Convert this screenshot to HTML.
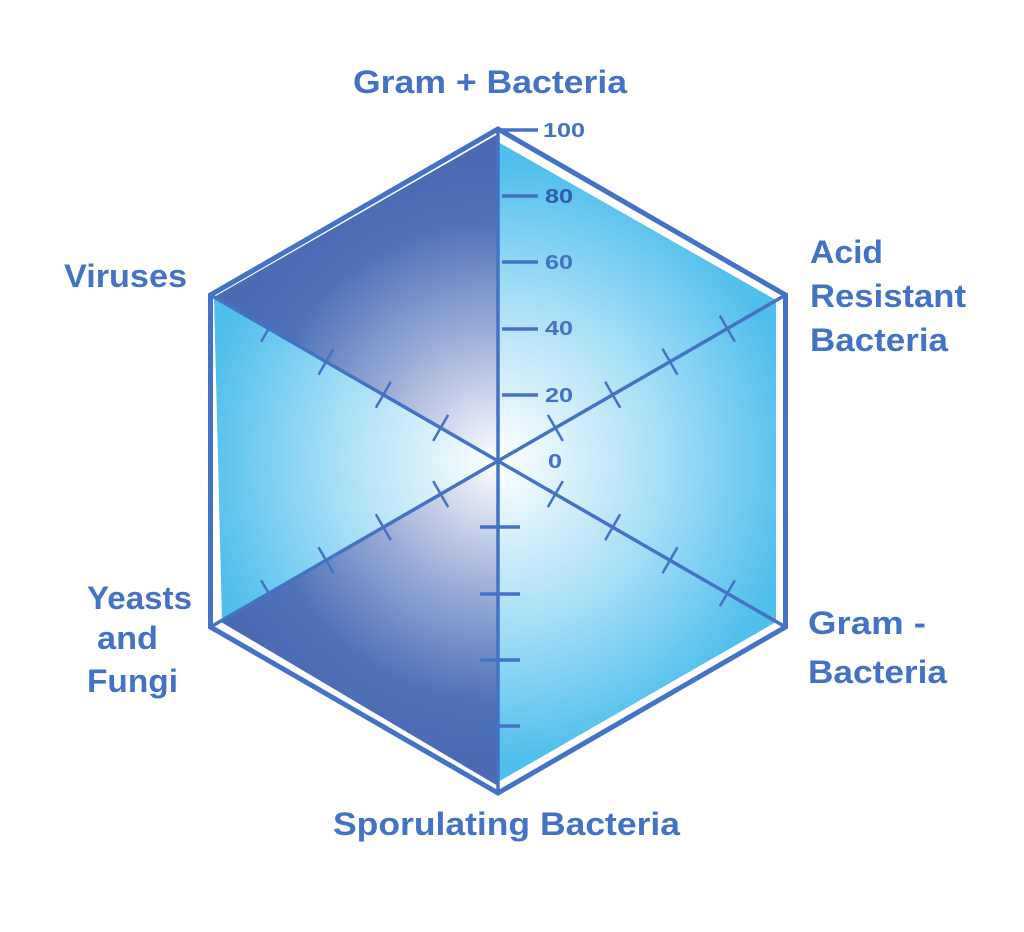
<!DOCTYPE html>
<html><head><meta charset="utf-8"><style>
html,body{margin:0;padding:0;background:#fff;}
svg{display:block;}
text{font-family:"Liberation Sans",sans-serif;font-weight:bold;fill:#4472C4;}
</style></head><body>
<svg width="1024" height="932" viewBox="0 0 1024 932">
<defs>
<radialGradient id="lg" gradientUnits="userSpaceOnUse" cx="498" cy="461" r="300">
<stop offset="0" stop-color="#ffffff"/><stop offset="0.55" stop-color="#a6def6"/><stop offset="1" stop-color="#4fbfec"/></radialGradient>
<radialGradient id="dg" gradientUnits="userSpaceOnUse" cx="498" cy="461" r="300">
<stop offset="0" stop-color="#ffffff"/><stop offset="0.4" stop-color="#a3b3da"/><stop offset="0.8" stop-color="#4f72b9"/><stop offset="1" stop-color="#4a6bb3"/></radialGradient>
</defs>
<polygon points="498,142 776,300 776,622 498,782 222,621 214,298" fill="url(#lg)"/>
<polygon points="498,461 498,134 214,297" fill="url(#dg)"/>
<polygon points="498,461 221,622 498,786" fill="url(#dg)"/>
<polygon points="498,129 785.5,295 785.5,627 498,793 210.5,627 210.5,295" fill="none" stroke="#4472C4" stroke-width="5" stroke-linejoin="miter"/>
<g stroke="#4472C4" stroke-width="3.5" fill="none">
<line x1="498" y1="461" x2="498" y2="129"/>
<line x1="498" y1="130" x2="538" y2="130"/>
<line x1="502" y1="196" x2="538" y2="196"/>
<line x1="502" y1="262" x2="538" y2="262"/>
<line x1="502" y1="329" x2="538" y2="329"/>
<line x1="502" y1="395" x2="538" y2="395"/>
<line x1="498" y1="461" x2="498" y2="793"/>
<line x1="480" y1="527" x2="520" y2="527"/>
<line x1="480" y1="594" x2="520" y2="594"/>
<line x1="480" y1="660" x2="520" y2="660"/>
<line x1="480" y1="726" x2="520" y2="726"/>
</g>
<g stroke="#4472C4" fill="none">
<g transform="translate(498,461) rotate(-30)"><line x1="0" y1="0" x2="332" y2="0" stroke-width="3.5"/><g stroke-width="2.5"><line x1="66.2" y1="-15" x2="66.2" y2="15"/><line x1="132.4" y1="-15" x2="132.4" y2="15"/><line x1="198.6" y1="-15" x2="198.6" y2="15"/><line x1="264.8" y1="-15" x2="264.8" y2="15"/></g></g>
<g transform="translate(498,461) rotate(30)"><line x1="0" y1="0" x2="332" y2="0" stroke-width="3.5"/><g stroke-width="2.5"><line x1="66.2" y1="-15" x2="66.2" y2="15"/><line x1="132.4" y1="-15" x2="132.4" y2="15"/><line x1="198.6" y1="-15" x2="198.6" y2="15"/><line x1="264.8" y1="-15" x2="264.8" y2="15"/></g></g>
<g transform="translate(498,461) rotate(150)"><line x1="0" y1="0" x2="332" y2="0" stroke-width="3.5"/><g stroke-width="2.5"><line x1="66.2" y1="-15" x2="66.2" y2="15"/><line x1="132.4" y1="-15" x2="132.4" y2="15"/><line x1="198.6" y1="-15" x2="198.6" y2="15"/><line x1="264.8" y1="-15" x2="264.8" y2="15"/></g></g>
<g transform="translate(498,461) rotate(210)"><line x1="0" y1="0" x2="332" y2="0" stroke-width="3.5"/><g stroke-width="2.5"><line x1="66.2" y1="-15" x2="66.2" y2="15"/><line x1="132.4" y1="-15" x2="132.4" y2="15"/><line x1="198.6" y1="-15" x2="198.6" y2="15"/><line x1="264.8" y1="-15" x2="264.8" y2="15"/></g></g>
</g>
<g font-size="20" lengthAdjust="spacingAndGlyphs">
<text x="543" y="137" textLength="42" lengthAdjust="spacingAndGlyphs">100</text>
<text x="545" y="203" textLength="28" lengthAdjust="spacingAndGlyphs" style="fill:#2f5caf">80</text>
<text x="545" y="269" textLength="28" lengthAdjust="spacingAndGlyphs">60</text>
<text x="545" y="335" textLength="28" lengthAdjust="spacingAndGlyphs">40</text>
<text x="545" y="402" textLength="28" lengthAdjust="spacingAndGlyphs">20</text>
<text x="548" y="468" textLength="14" lengthAdjust="spacingAndGlyphs">0</text>
</g>
<g font-size="32">
<text x="353" y="93" textLength="274" lengthAdjust="spacingAndGlyphs">Gram + Bacteria</text>
<text x="64" y="287" textLength="123" lengthAdjust="spacingAndGlyphs">Viruses</text>
<text x="810" y="263" textLength="73" lengthAdjust="spacingAndGlyphs">Acid</text>
<text x="810" y="307" textLength="156" lengthAdjust="spacingAndGlyphs">Resistant</text>
<text x="810" y="351" textLength="138" lengthAdjust="spacingAndGlyphs">Bacteria</text>
<text x="808" y="634" textLength="118" lengthAdjust="spacingAndGlyphs">Gram -</text>
<text x="808" y="683" textLength="139" lengthAdjust="spacingAndGlyphs">Bacteria</text>
<text x="87" y="609" textLength="105" lengthAdjust="spacingAndGlyphs">Yeasts</text>
<text x="97" y="649" textLength="61" lengthAdjust="spacingAndGlyphs">and</text>
<text x="87" y="692" textLength="91" lengthAdjust="spacingAndGlyphs">Fungi</text>
<text x="333" y="835" textLength="347" lengthAdjust="spacingAndGlyphs">Sporulating Bacteria</text>
</g>
</svg>
</body></html>
